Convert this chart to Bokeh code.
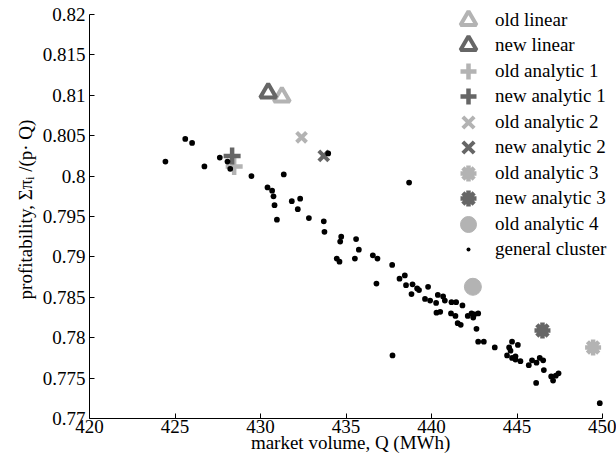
from bokeh.plotting import figure
from bokeh.models import Legend, LegendItem, FixedTicker, Range1d
from bokeh.embed import file_html
from bokeh.resources import INLINE

# ---------------- data ----------------
x_ticks = [420, 425, 430, 435, 440, 445, 450]
x_tick_labels = ["420", "425", "430", "435", "440", "445", "450"]
y_ticks = [0.77, 0.775, 0.78, 0.785, 0.79, 0.795, 0.80, 0.805, 0.81, 0.815, 0.82]
y_tick_labels = ["0.77", "0.775", "0.78", "0.785", "0.79", "0.795", "0.8",
                 "0.805", "0.81", "0.815", "0.82"]

old_linear_x = [431.25]
old_linear_y = [0.8098]
new_linear_x = [430.45]
new_linear_y = [0.8103]
old_analytic1_x = [428.46]
old_analytic1_y = [0.8012]
new_analytic1_x = [428.34]
new_analytic1_y = [0.8025]
old_analytic2_x = [432.40]
old_analytic2_y = [0.8048]
new_analytic2_x = [433.70]
new_analytic2_y = [0.8025]
old_analytic3_x = [449.45]
old_analytic3_y = [0.7788]
new_analytic3_x = [446.49]
new_analytic3_y = [0.7809]
old_analytic4_x = [442.42]
old_analytic4_y = [0.7863]

cluster_x = [424.44, 425.60, 426.00, 426.72, 427.62, 428.07, 428.23, 429.47, 431.36, 430.41,
             430.68, 430.76, 430.82, 430.96, 431.83, 432.32, 432.18, 432.83, 433.70, 433.74,
             433.96, 434.72, 434.66, 434.46, 434.62, 438.69, 435.59, 435.75, 435.52, 436.57,
             436.84, 437.70, 438.44, 438.13, 436.78, 438.89, 438.51, 439.16, 439.27, 439.80,
             438.83, 439.62, 439.92, 440.37, 440.68, 440.78, 440.27, 440.29, 440.51, 441.17,
             441.44, 441.81, 441.14, 441.40, 441.53, 441.71, 442.12, 442.34, 442.51, 442.44,
             442.73, 442.63, 442.73, 443.06, 443.70, 444.71, 444.54, 445.05, 444.62, 444.42,
             444.71, 444.91, 444.91, 445.20, 445.69, 445.88, 446.14, 446.33, 446.53, 446.57,
             446.12, 447.00, 447.11, 447.27, 447.43, 449.84, 437.72]
cluster_y = [0.8018, 0.8046, 0.8041, 0.8012, 0.8023, 0.8018, 0.8009, 0.8000, 0.8002, 0.7986,
             0.7982, 0.7975, 0.7964, 0.7946, 0.7969, 0.7972, 0.7959, 0.7948, 0.7944, 0.7931,
             0.8028, 0.7925, 0.7919, 0.7898, 0.7894, 0.7992, 0.7922, 0.7909, 0.7898, 0.7902,
             0.7898, 0.7890, 0.7877, 0.7873, 0.7867, 0.7866, 0.7865, 0.7861, 0.7859, 0.7863,
             0.7854, 0.7848, 0.7846, 0.7853, 0.7851, 0.7846, 0.7843, 0.7831, 0.7832, 0.7844,
             0.7844, 0.7840, 0.7830, 0.7827, 0.7818, 0.7816, 0.7827, 0.7830, 0.7829, 0.7825,
             0.7830, 0.7811, 0.7795, 0.7795, 0.7788, 0.7795, 0.7788, 0.7791, 0.7784, 0.7778,
             0.7775, 0.7777, 0.7773, 0.7771, 0.7766, 0.7772, 0.7769, 0.7775, 0.7772, 0.7760,
             0.7744, 0.7752, 0.7747, 0.7753, 0.7756, 0.7719, 0.7778]

x_lo, x_hi = 420, 450
y_lo, y_hi = 0.77, 0.82

LIGHT = "#b3b3b3"
DARK = "#666666"
FONT = "Liberation Serif"
FS = "19px"

# axes box: 89..602 px horizontally, 14..418 px vertically; the drawing
# frame is extended to the window's top/right edge so the legend is not clipped
W, H = 616, 466
left, right_ax, top_ax, bottom = 89, 602, 14, 418
px_x = (right_ax - left) / (x_hi - x_lo)
px_y = (bottom - top_ax) / (y_hi - y_lo)
x_end = x_hi + (W - right_ax) / px_x
y_end = y_hi + top_ax / px_y

p = figure(width=W, height=H, output_backend="svg", toolbar_location=None,
           x_range=Range1d(x_lo, x_end), y_range=Range1d(y_lo, y_end),
           min_border_left=left, min_border_right=0, min_border_top=0,
           min_border_bottom=H - bottom)
p.outline_line_color = None
p.xgrid.visible = False
p.ygrid.visible = False
p.background_fill_color = "white"
p.border_fill_color = "white"

# big markers
r_ol = p.scatter(old_linear_x, old_linear_y, marker="triangle", size=16,
                 line_color=LIGHT, line_width=4, fill_alpha=0)
r_nl = p.scatter(new_linear_x, new_linear_y, marker="triangle", size=16,
                 line_color=DARK, line_width=4, fill_alpha=0)
r_oa1 = p.scatter(old_analytic1_x, old_analytic1_y, marker="cross", size=17,
                  line_color=LIGHT, line_width=4.5)
r_na1 = p.scatter(new_analytic1_x, new_analytic1_y, marker="cross", size=17,
                  line_color=DARK, line_width=4.5)
r_oa2 = p.scatter(old_analytic2_x, old_analytic2_y, marker="x", size=14,
                  line_color=LIGHT, line_width=4)
r_na2 = p.scatter(new_analytic2_x, new_analytic2_y, marker="x", size=14,
                  line_color=DARK, line_width=4)
r_oa3 = p.scatter(old_analytic3_x, old_analytic3_y, marker="asterisk", size=16,
                  line_color=LIGHT, line_width=4.5)
r_na3 = p.scatter(new_analytic3_x, new_analytic3_y, marker="asterisk", size=16,
                  line_color=DARK, line_width=4.5)
r_oa4 = p.scatter(old_analytic4_x, old_analytic4_y, marker="circle", size=17,
                  line_color=LIGHT, fill_color=LIGHT, line_width=1)
r_cl = p.scatter(cluster_x, cluster_y, marker="dot", size=23,
                 line_color="black", line_width=1)

# axes
p.xaxis.ticker = FixedTicker(ticks=x_ticks)
p.yaxis.ticker = FixedTicker(ticks=y_ticks)
p.xaxis.bounds = (x_lo, x_hi)
p.yaxis.bounds = (y_lo, y_hi)
p.xaxis.major_label_overrides = dict(zip(x_ticks, x_tick_labels))
p.yaxis.major_label_overrides = dict(zip(y_ticks, y_tick_labels))
for ax in (p.xaxis, p.yaxis):
    ax.axis_line_color = "black"
    ax.axis_line_width = 1
    ax.major_tick_line_color = "black"
    ax.major_tick_in = 5
    ax.major_tick_out = 0
    ax.minor_tick_line_color = None
    ax.major_label_text_font = FONT
    ax.major_label_text_font_size = FS
    ax.major_label_text_color = "black"
    ax.axis_label_text_font = FONT
    ax.axis_label_text_font_size = FS
    ax.axis_label_text_font_style = "normal"
    ax.axis_label_text_color = "black"
p.xaxis.axis_label = "market volume,  Q (MWh)"
p.yaxis.axis_label = "profitability, Σπᵢ /(p· Q)"
p.xaxis.major_label_standoff = 1
p.xaxis.axis_label_standoff = -4
p.yaxis.major_label_standoff = 4
p.yaxis.axis_label_standoff = 4

labels = ["old linear", "new linear", "old analytic 1", "new analytic 1",
          "old analytic 2", "new analytic 2", "old analytic 3", "new analytic 3",
          "old analytic 4", "general cluster"]
rends = [r_ol, r_nl, r_oa1, r_na1, r_oa2, r_na2, r_oa3, r_na3, r_oa4, r_cl]

def make_legend(idx, loc):
    return Legend(items=[LegendItem(label=labels[i], renderers=[rends[i]]) for i in idx],
                  location=loc, glyph_width=40, glyph_height=40, label_height=20,
                  spacing=11, padding=0, margin=0, label_standoff=7,
                  border_line_color=None, background_fill_alpha=0,
                  label_text_font=FONT, label_text_font_size=FS,
                  label_text_color="black")

p.add_layout(make_legend([0, 2, 4, 6, 8], (359, 174)), "center")
p.add_layout(make_legend([1, 3, 5, 7, 9], (359, 149)), "center")

open("out.html", "w").write(file_html(p, INLINE))
